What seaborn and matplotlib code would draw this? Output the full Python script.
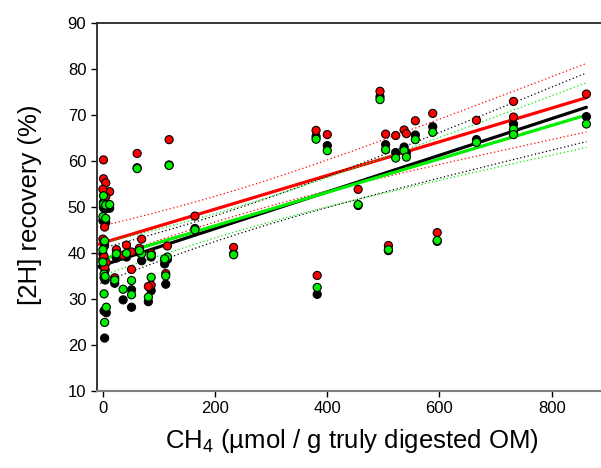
import numpy as np
import pandas as pd
import matplotlib
matplotlib.use("Agg")
import matplotlib.pyplot as plt
import seaborn as sns

# CH4 production per sample and the three [2H] recovery estimates
ch4 = [380, 382, 400, 455, 494, 504, 509, 522, 537, 541, 557, 588, 596, 666, 732, 732, 862,
       233, 164, 118, 61,
       1, 1, 5, 12, 0, 5, 3, 0, 0, 2, 4, 21, 2, 6, 3,
       24, 42, 69, 65, 86, 115, 110, 51, 86, 112, 81, 36, 51]
black_rec = [65.3, 31.0, 63.3, 50.3, 73.9, 63.5, 40.5, 61.8, 63.0, 61.7, 65.6, 67.4, 42.5, 64.6, 68.0, 66.5, 69.6,
             39.8, 45.3, 59.1, 58.5,
             51.0, 49.8, 49.6, 49.7, 47.0, 46.6, 41.6, 39.8, 37.1, 34.6, 34.1, 33.4, 27.4, 27.0, 21.5,
             38.9, 39.1, 38.3, 40.1, 39.1, 38.6, 37.6, 32.0, 31.8, 33.2, 29.4, 29.8, 28.2]
red_rec = [66.6, 35.1, 65.7, 53.8, 75.1, 65.8, 41.6, 65.5, 66.7, 65.9, 68.7, 70.3, 44.4, 68.8, 72.9, 69.5, 74.5,
           41.2, 48.0, 64.6, 61.6,
           60.2, 56.1, 55.2, 53.3, 53.8, 52.2, 45.6, 43.0, 38.7, 37.7, 36.3, 34.6, 39.2, 37.9, 36.8,
           40.7, 41.7, 43.0, 41.0, 39.9, 41.5, 38.5, 36.4, 33.0, 35.5, 32.7, 39.5, 40.2]
green_rec = [64.7, 32.5, 62.2, 50.5, 73.3, 62.4, 40.7, 60.6, 62.2, 60.8, 64.6, 66.2, 42.7, 64.0, 66.9, 65.7, 68.0,
             39.6, 45.0, 59.0, 58.3,
             52.4, 50.6, 50.4, 50.5, 47.9, 47.5, 42.6, 40.7, 38.0, 35.4, 34.9, 34.1, 31.1, 28.2, 24.9,
             39.8, 39.9, 39.8, 40.5, 39.5, 39.1, 38.7, 34.0, 34.7, 35.0, 30.4, 32.1, 30.9]

series_colors = {"black": "#000000", "red": "#ff0000", "green": "#00ee00"}

df = pd.DataFrame({"ch4": ch4, "black": black_rec, "red": red_rec, "green": green_rec})
long = df.melt(id_vars="ch4", var_name="series", value_name="rec")

sns.set_style("ticks")
plt.rcParams['font.family'] = ['Liberation Sans', 'DejaVu Sans']
plt.rcParams['mathtext.default'] = 'regular'
plt.rcParams['text.color'] = 'black'
plt.rcParams['axes.labelcolor'] = 'black'

fig = plt.figure(figsize=(6.01, 4.68), dpi=100)
ax = fig.add_axes([0.161, 0.1645, 0.839, 0.787])

# regression lines with 95% confidence bands (dotted)
x = np.array(ch4, dtype=float)
xfit = np.linspace(-11, x.max(), 200)
for name in ["red", "black", "green"]:
    y = df[name].to_numpy()
    slope, icpt = np.polyfit(x, y, 1)
    yhat = icpt + slope * xfit
    resid = y - (icpt + slope * x)
    n = len(x)
    s = np.sqrt(resid @ resid / (n - 2))
    se = s * np.sqrt(1 / n + (xfit - x.mean()) ** 2 / ((x - x.mean()) ** 2).sum())
    c = series_colors[name]
    ax.plot(xfit, yhat, color=c, lw=2.3, zorder=2)
    ax.plot(xfit, yhat + 2.01 * se, color=c, lw=0.9, ls=(0, (1, 2)), zorder=2)
    ax.plot(xfit, yhat - 2.01 * se, color=c, lw=0.9, ls=(0, (1, 2)), zorder=2)

sns.scatterplot(data=long, x="ch4", y="rec", hue="series", palette=series_colors,
                s=34, edgecolor="black", linewidth=0.8, legend=False, zorder=3, ax=ax)

ax.set_xlim(-11, 888)
ax.set_ylim(10, 90)
ax.set_xticks([0, 200, 400, 600, 800])
ax.set_yticks(range(10, 91, 10))
ax.tick_params(axis="both", direction="out", length=4, width=1, labelsize=12, colors="black")
ax.spines["right"].set_visible(False)
ax.spines["bottom"].set_color("#808080")
ax.spines["bottom"].set_linewidth(1.5)
ax.spines["left"].set_linewidth(1.3)
ax.spines["top"].set_linewidth(1.3)

ax.set_xlabel("CH$_4$ (\u00b5mol / g truly digested OM)", fontsize=18.5)
ax.set_ylabel("[2H] recovery (%)", fontsize=18.5)
ax.xaxis.set_label_coords(0.507, -0.098)
ax.yaxis.set_label_coords(-0.109, 0.505)

fig.savefig("out.png", dpi=100)
